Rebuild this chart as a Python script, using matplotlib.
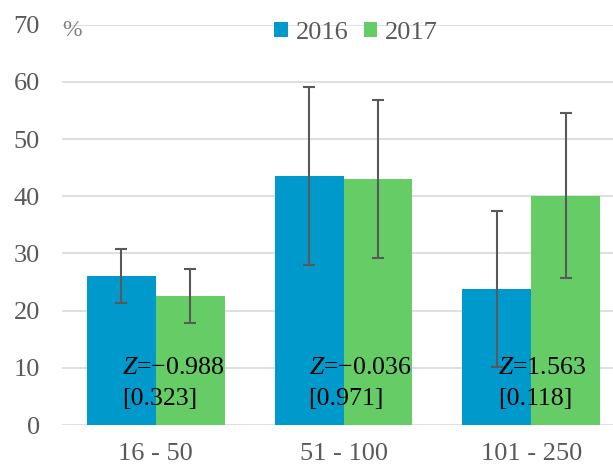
import matplotlib
matplotlib.use("Agg")
import matplotlib.pyplot as plt
import numpy as np

plt.rcParams['font.family'] = ['Liberation Serif', 'DejaVu Serif']
plt.rcParams['mathtext.fontset'] = 'custom'
plt.rcParams['mathtext.it'] = 'Liberation Serif:italic'
plt.rcParams['mathtext.rm'] = 'Liberation Serif'

# data
groups = ['16 - 50', '51 - 100', '101 - 250']
years = ['2016', '2017']
vals_2016 = [26.0, 43.5, 23.8]
vals_2017 = [22.5, 43.0, 40.1]
err_2016 = [4.7, 15.6, 13.6]
err_2017 = [4.75, 13.85, 14.4]
z_vals = ['\u22120.988', '\u22120.036', '1.563']
p_vals = ['[0.323]', '[0.971]', '[0.118]']

blue = '#0099cc'
green = '#66cc66'
grey = '#595959'

fig = plt.figure(figsize=(6.13, 4.68), dpi=100)
ax = fig.add_axes([62 / 613, 1 - 425 / 468, 1 - 62 / 613, (425 - 24.6) / 468])

x = np.arange(len(groups))
w = 0.367
ax.bar(x - w / 2, vals_2016, w, color=blue, label=years[0], zorder=2)
ax.bar(x + w / 2, vals_2017, w, color=green, label=years[1], zorder=2)
ax.errorbar(x - w / 2, vals_2016, yerr=err_2016, fmt='none', ecolor=grey,
            elinewidth=1.5, capsize=4.5, capthick=1.5, zorder=3)
ax.errorbar(x + w / 2, vals_2017, yerr=err_2017, fmt='none', ecolor=grey,
            elinewidth=1.5, capsize=4.5, capthick=1.5, zorder=3)

offs = [-0.181, -0.186, -0.176]
for i in range(len(groups)):
    ax.text(x[i] + offs[i], 10.0, '$Z$=' + z_vals[i], fontsize=18.6,
            va='center', ha='left', color='black', zorder=4)
    ax.text(x[i] + offs[i], 4.5, p_vals[i], fontsize=18.6,
            va='center', ha='left', color='black', zorder=4)

ax.set_ylim(0, 70)
ax.set_xlim(-0.5, 2.436)
ax.set_yticks(np.arange(0, 71, 10))
ax.set_xticks(x)
ax.set_xticklabels(groups)
ax.grid(axis='y', color='#d9d9d9', linewidth=1.2, zorder=0)
ax.tick_params(axis='both', length=0, labelsize=19, colors=grey)
ax.tick_params(axis='y', pad=16)
ax.tick_params(axis='x', pad=13)
for s in ax.spines.values():
    s.set_visible(False)

ax.text(0.001, 0.985, '%', transform=ax.transAxes, fontsize=17,
        color='#808080', va='center', ha='left')

ax.legend(loc='center', bbox_to_anchor=(0.534, 0.98), ncol=2,
          frameon=False, fontsize=19, handlelength=0.5, handleheight=0.5,
          handletextpad=0.3, columnspacing=0.6, labelcolor=grey,
          borderpad=0)

fig.savefig('out.png', dpi=100)
